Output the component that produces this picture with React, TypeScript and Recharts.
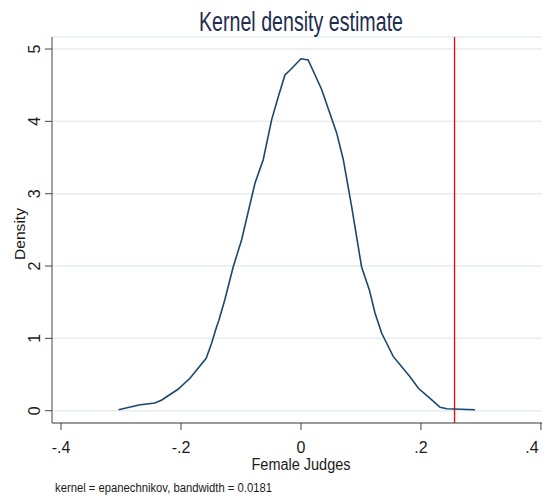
import React from "react";
import {
  ComposedChart,
  Line,
  XAxis,
  YAxis,
  CartesianGrid,
  ReferenceLine,
} from "recharts";

const femaleJudges = [
  -0.304, -0.27, -0.2435, -0.232, -0.205, -0.185, -0.158, -0.149, -0.1406,
  -0.1368, -0.127, -0.1129, -0.099, -0.0767, -0.0629, -0.0489, -0.0378,
  -0.0267, -0.018, 0.0, 0.012, 0.0345, 0.0595, 0.0706, 0.0845, 0.101, 0.114,
  0.1234, 0.1346, 0.154, 0.1818, 0.1957, 0.2152, 0.2319, 0.243, 0.2902,
];
const densityValues = [
  0.014, 0.079, 0.106, 0.148, 0.296, 0.448, 0.725, 0.932, 1.16, 1.25, 1.53,
  1.99, 2.36, 3.145, 3.47, 4.02, 4.34, 4.64, 4.71, 4.865, 4.85, 4.44, 3.84,
  3.47, 2.82, 1.99, 1.67, 1.35, 1.07, 0.747, 0.47, 0.31, 0.17, 0.047, 0.028,
  0.014,
];
const xTicks = [-0.4, -0.2, 0, 0.2, 0.4];
const xTickLabels = ["-.4", "-.2", "0", ".2", ".4"];
const yTicks = [0, 1, 2, 3, 4, 5];
const markerValue = 0.256;

const data = femaleJudges.map((x, i) => ({ x, density: densityValues[i] }));

const FONT = "'Liberation Sans Narrow', 'Liberation Sans', Arial, sans-serif";
const TXT = "#1a1a1a";

const XTick = (props: any) => {
  const { x, payload } = props;
  const idx = xTicks.indexOf(payload.value);
  const label = idx >= 0 ? xTickLabels[idx] : String(payload.value);
  return (
    <text x={x} y={453} textAnchor="middle" fontFamily={FONT} fontSize={16} fill={TXT}>
      {label}
    </text>
  );
};

const YTick = (props: any) => {
  const { y, payload } = props;
  const bx = 40.5;
  return (
    <text
      x={bx}
      y={y}
      transform={`rotate(-90, ${bx}, ${y})`}
      textAnchor="middle"
      fontFamily={FONT}
      fontSize={16}
      fill={TXT}
    >
      {String(payload.value)}
    </text>
  );
};

export default function App() {
  return (
    <div style={{ position: "absolute", left: 0, top: 0, width: 542, height: 495, background: "#fff", overflow: "hidden" }}>
      <ComposedChart
        width={542}
        height={495}
        data={data}
        margin={{ top: 37, right: 0, bottom: 42, left: 12 }}
      >
        <CartesianGrid vertical={false} stroke="#e6eef1" strokeWidth={1.5} />
        <XAxis
          dataKey="x"
          type="number"
          domain={[-0.415, 0.4018]}
          allowDataOverflow
          ticks={xTicks}
          tick={<XTick />}
          tickSize={7}
          height={30}
          stroke="#444"
          tickLine={{ stroke: "#444" }}
        />
        <YAxis
          type="number"
          domain={[-0.17, 5.166]}
          allowDataOverflow
          ticks={yTicks}
          tick={<YTick />}
          tickSize={7}
          width={40}
          stroke="#444"
          tickLine={{ stroke: "#444" }}
        />
        <ReferenceLine x={markerValue} stroke="#ff0000" strokeWidth={1.3} />
        <Line
          dataKey="density"
          type="linear"
          stroke="#1a476f"
          strokeWidth={1.6}
          dot={false}
          isAnimationActive={false}
        />
      </ComposedChart>
      <svg
        width={542}
        height={495}
        style={{ position: "absolute", left: 0, top: 0, pointerEvents: "none" }}
      >
        <text
          x={301}
          y={31}
          textAnchor="middle"
          fontFamily="'Liberation Sans', Arial, sans-serif"
          fontSize={27}
          fill="#1e2d4f"
          textLength={204}
          lengthAdjust="spacingAndGlyphs"
        >
          Kernel density estimate
        </text>
        <text
          x={301}
          y={470}
          textAnchor="middle"
          fontFamily="'Liberation Sans', Arial, sans-serif"
          fontSize={16}
          fill={TXT}
          textLength={99}
          lengthAdjust="spacingAndGlyphs"
        >
          Female Judges
        </text>
        <text
          x={25}
          y={234}
          transform="rotate(-90, 25, 234)"
          textAnchor="middle"
          fontFamily="'Liberation Sans', Arial, sans-serif"
          fontSize={15}
          fill={TXT}
          textLength={52}
          lengthAdjust="spacingAndGlyphs"
        >
          Density
        </text>
        <text
          x={55}
          y={492}
          fontFamily="'Liberation Sans', Arial, sans-serif"
          fontSize={12.5}
          fill={TXT}
          textLength={217}
          lengthAdjust="spacingAndGlyphs"
        >
          kernel = epanechnikov, bandwidth = 0.0181
        </text>
      </svg>
    </div>
  );
}
